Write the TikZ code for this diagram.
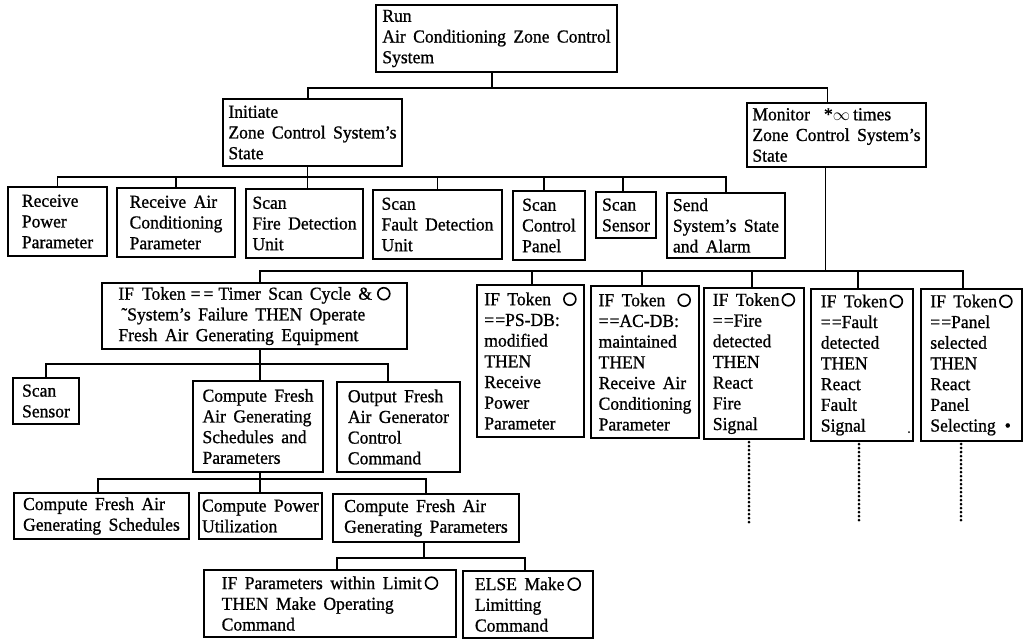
\documentclass[tikz,border=0pt]{standalone}
\usepackage{fontspec}
\setmainfont{Liberation Serif}[FakeStretch=0.96,WordSpace=1.7,FakeBold=0.9]
\tikzset{
  ctl/.style={draw, line width=1.7pt, anchor=north west, inner sep=0pt, outer sep=0pt,
    align=left, font=\fontsize{18.3}{20.7}\selectfont},
  wire/.style={line width=1.7pt},
  dotline/.style={line width=3pt, line cap=round, dash pattern=on 0pt off 4pt},
}
% small open circle used as a marker inside the rule boxes
\newcommand\ringmark{\tikz[baseline=-6pt]\draw[line width=1.6pt] (0,0) circle[radius=6pt];}
% \ctlbox{name}{x1}{y1}{x2}{y2}{text}: box with top-left (x1,y1) and bottom-right (x2,y2)
\newcommand\ctlbox[6]{\node[ctl, minimum width={#4pt-#2pt}, minimum height={#5pt-#3pt}] (#1) at (#2,#3) {#6};}
\begin{document}
\begin{tikzpicture}[x=1pt,y=-1pt]
\fill[white] (0,0) rectangle (1026,641);
\useasboundingbox (0,0) rectangle (1026,641);

% bus levels of the tree
\coordinate (L1) at (0,88);
\coordinate (L2) at (0,177);
\coordinate (L3) at (0,271);
\coordinate (L4) at (0,364);
\coordinate (L5) at (0,479);
\coordinate (L6) at (0,558);
\coordinate (E) at (0,522);

% boxes
\ctlbox{run}{376}{5}{617}{72}{Run\\Air Conditioning Zone Control\\System}
\ctlbox{init}{223}{99}{402}{166}{Initiate\\Zone Control System's\\State}
\ctlbox{mon}{747}{103}{926}{167}{Monitor\hspace{14pt}*$\infty$\,times\\Zone Control System's\\State}

\ctlbox{rpp}{8}{187}{107}{256}{Receive\\Power\\Parameter}
\ctlbox{racp}{117}{188}{235}{257}{Receive Air\\Conditioning\\Parameter}
\ctlbox{sfdu}{246}{189}{363}{258}{Scan\\Fire Detection\\Unit}
\ctlbox{sfau}{373}{190}{502}{259}{Scan\\Fault Detection\\Unit}
\ctlbox{scp}{513}{191}{585}{260}{Scan\\Control\\Panel}
\ctlbox{ss}{596}{192}{656}{238}{Scan\\Sensor}
\ctlbox{send}{667}{193}{785}{258}{Send\\System's State\\and Alarm}

\ctlbox{iftimer}{102}{283}{407}{349}{IF\hspace{8pt}Token\hspace{5pt}=\kern3pt=\hspace{5pt}Timer Scan Cycle \&\hspace{5pt}\ringmark\\\hspace*{3pt}\char"02DC System's Failure THEN Operate\\Fresh Air Generating Equipment}
\ctlbox{psdb}{477}{285}{584}{437}{IF Token\hspace{12pt}\ringmark\\=\kern1pt=PS-DB:\\modified\\THEN\\Receive\\Power\\Parameter}
\ctlbox{acdb}{591}{286}{699}{438}{IF Token\hspace{12pt}\ringmark\\=\kern1pt=AC-DB:\\maintained\\THEN\\Receive Air\\Conditioning\\Parameter}
\ctlbox{fire}{704}{288}{804}{439}{IF Token\kern2pt\ringmark\\=\kern1pt=Fire\\detected\\THEN\\React\\Fire\\Signal}
\ctlbox{fault}{811}{289}{913}{441}{IF Token\kern2pt\ringmark\\=\kern1pt=Fault\\detected\\THEN\\React\\Fault\\Signal}
\ctlbox{panel}{921}{289}{1022}{441}{IF Token\kern2pt\ringmark\\=\kern1pt=Panel\\selected\\THEN\\React\\Panel\\Selecting\hspace{9pt}\textbullet}

\ctlbox{rss}{13}{378}{79}{424}{Scan\\Sensor}
\ctlbox{cfag}{193}{381}{323}{472}{Compute Fresh\\Air Generating\\Schedules and\\Parameters}
\ctlbox{ofag}{337}{382}{460}{472}{Output Fresh\\Air Generator\\Control\\Command}

\ctlbox{cfags}{14}{493}{189}{539}{Compute Fresh Air\\Generating Schedules}
\ctlbox{cpu}{199}{493}{322}{539}{Compute Power\\Utilization}
\ctlbox{cfagp}{333}{494}{519}{542}{Compute Fresh Air\\Generating Parameters}

\ctlbox{ifpar}{204}{570}{456}{637}{IF Parameters within Limit\kern3pt\ringmark\\THEN Make Operating\\Command}
\ctlbox{elsebox}{463}{571}{593}{638}{ELSE Make\kern3pt\ringmark\\Limitting\\Command}

% level 1
\draw[wire] ([xshift=-4.5pt]run.south) -- ([xshift=-4.5pt]run.south |- L1);
\draw[wire] ([xshift=-4.5pt]init.north) |- ([xshift=-9pt]mon.north |- L1) -- ([xshift=-9pt]mon.north);

% level 2
\draw[wire] ([xshift=-5pt]init.south) -- ([xshift=-5pt]init.south |- sfdu.north);
\draw[wire] (rpp.north) |- (send.north |- L2) -- (send.north);
\draw[wire] (racp.north) -- (racp.north |- L2);
\draw[wire] (sfau.north) -- (sfau.north |- L2);
\draw[wire] ([xshift=-5pt]scp.north) -- ([xshift=-5pt]scp.north |- L2);
\draw[wire] ([xshift=-3pt]ss.north) -- ([xshift=-3pt]ss.north |- L2);

% level 3
\draw[wire] ([xshift=-11pt]mon.south) -- ([xshift=-11pt]mon.south |- L3);
\draw[wire] ([xshift=5.5pt]iftimer.north) |- ([xshift=-8.5pt]panel.north |- L3) -- ([xshift=-8.5pt]panel.north);
\foreach \n/\dx in {psdb/1.5, acdb/-3, fire/-2, fault/-4}
  \draw[wire] ([xshift=\dx pt]\n.north) -- ([xshift=\dx pt]\n.north |- L3);

% level 4
\draw[wire] ([xshift=5.5pt]iftimer.south) -- ([xshift=5.5pt]iftimer.south |- cfag.north);
\draw[wire] (rss.north) |- ([xshift=-10.5pt]ofag.north |- L4) -- ([xshift=-10.5pt]ofag.north);

% level 5
\draw[wire] ([xshift=2pt]cfag.south) -- ([xshift=2pt]cfag.south |- cpu.north);
\draw[wire] ([xshift=-3.5pt]cfags.north) |- (cfagp.north |- L5) -- (cfagp.north);

% level 6
\draw[wire] ([xshift=-2pt]cfagp.south) -- ([xshift=-2pt]cfagp.south |- L6);
\draw[wire] ([xshift=7pt]ifpar.north) |- ([xshift=-3pt]elsebox.north |- L6) -- ([xshift=-3pt]elsebox.north);

% continuation lines below the reaction rules
\foreach \n/\dx in {fire/-5, fault/-3, panel/-10.5}
  \draw[dotline] ([xshift=\dx pt, yshift=-3pt]\n.south) -- ([xshift=\dx pt]\n.south |- E);

\fill ([shift={(-4pt,9pt)}]fault.south east) circle[radius=1pt];
\end{tikzpicture}
\end{document}
